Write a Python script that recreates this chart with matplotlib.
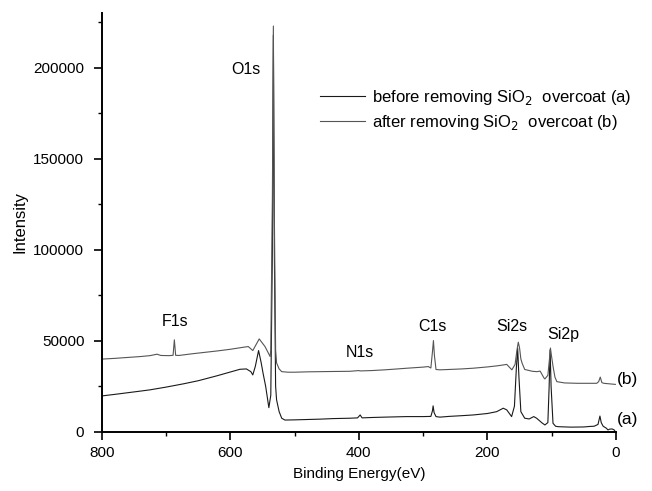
import matplotlib
matplotlib.use("Agg")
import matplotlib.pyplot as plt
from matplotlib.ticker import MultipleLocator

plt.rcParams['font.family'] = ['Liberation Sans', 'DejaVu Sans']

# Curve (a): before removing SiO2 overcoat  (binding energy eV, intensity)
e_a = [800, 780, 760, 740, 725, 700, 673, 650, 621, 600, 585, 575, 568, 565, 561, 556, 552, 549,
       545, 540, 537, 534.5, 533, 531.5, 529.5, 528, 524, 520, 515, 500, 480, 460, 440, 414, 402,
       398, 395, 380, 360, 325.7, 300, 288, 285.5, 284.5, 283, 280, 274, 260, 240, 222, 200,
       185.7, 175.4, 170, 162.4, 158, 155, 153, 151, 148, 142, 135, 128, 123.5, 115, 110.6, 106,
       104, 102.5, 101, 98, 94, 90, 70, 50, 40, 34, 28, 25, 23, 20, 15, 12.5, 10, 6, 3, 1]
i_a = [19650, 20500, 21400, 22300, 23000, 24500, 26300, 28000, 30700, 32800, 34300, 34500, 33000,
       31200, 36000, 44600, 38000, 32100, 25000, 13200, 20000, 100000, 218000, 100000, 25000, 17500,
       11000, 7400, 6400, 6500, 6700, 6900, 7200, 7400, 7600, 9200, 7600, 7800, 8000, 8300, 8300,
       8400, 11500, 14200, 10500, 8300, 8000, 8400, 8800, 9200, 10000, 11000, 12900, 12000, 8300,
       14000, 35000, 46000, 30000, 11000, 7400, 7000, 8300, 7400, 4800, 3700, 5000, 25000, 45000,
       25000, 4600, 3000, 2750, 2500, 2600, 2900, 3000, 4000, 8600, 5000, 3000, 1900, 950, 1400,
       1500, 1000, 0]

# Curve (b): after removing SiO2 overcoat
e_b = [800, 780, 760, 740, 725, 714, 708, 695, 689, 687, 685, 680, 660, 640, 620, 600, 580, 572,
       565, 555, 546, 538, 537, 534.5, 533, 531.5, 529.5, 528, 524, 520, 510, 500, 480, 460, 440,
       414, 400, 398, 380, 360, 340, 325, 300, 292, 288, 285.5, 284, 282.5, 280, 274, 260, 240,
       222, 200, 185, 175, 170, 162, 157, 154, 152, 150, 148, 146, 142, 130, 123, 118, 112, 110.6,
       106, 103.5, 102, 100.5, 98, 95, 92, 80, 60, 40, 30, 27, 24.5, 22, 19, 10, 4, 1]
i_b = [39900, 40300, 40800, 41300, 41800, 42600, 41900, 41800, 42000, 50500, 42000, 41900, 42800,
       43600, 44400, 45300, 46400, 46800, 44600, 51000, 46800, 41300, 45000, 130000, 223000,
       120000, 45000, 37800, 34500, 33000, 32700, 32700, 32900, 33000, 33100, 33200, 33600, 33400,
       33600, 34000, 34500, 34900, 35500, 35800, 35000, 44000, 50100, 42000, 34200, 34000, 34200,
       34500, 34900, 35600, 36200, 36700, 37000, 34000, 37000, 45000, 49200, 46000, 40000, 37600,
       34200, 33200, 33000, 33300, 29500, 29000, 31000, 40000, 46000, 42000, 36000, 30000, 27500,
       26800, 26600, 26600, 26600, 27500, 30000, 27000, 26600, 26300, 26100, 26000]

labels = ["before removing SiO$_2$  overcoat (a)", "after removing SiO$_2$  overcoat (b)"]

peak_names = ["F1s", "O1s", "N1s", "C1s", "Si2s", "Si2p"]
peak_pos_e = [686, 575, 399, 285.5, 162, 82]
peak_pos_i = [60400, 199000, 43600, 57800, 57700, 53500]

fig = plt.figure(figsize=(6.52, 4.91), dpi=100)
ax = fig.add_axes([0.156, 0.1208, 0.7888, 0.8521])

ax.plot(e_a, i_a, color='#1a1a1a', lw=0.8, label=labels[0])
ax.plot(e_b, i_b, color='#555555', lw=0.8, label=labels[1])

ax.set_xlim(800, 0)
ax.set_ylim(0, 230000)
ax.xaxis.set_major_locator(MultipleLocator(200))
ax.xaxis.set_minor_locator(MultipleLocator(100))
ax.yaxis.set_major_locator(MultipleLocator(50000))
ax.yaxis.set_minor_locator(MultipleLocator(25000))

for s in ['top', 'right']:
    ax.spines[s].set_visible(False)
for s in ['left', 'bottom']:
    ax.spines[s].set_linewidth(1.4)
ax.tick_params(which='major', direction='out', length=5.5, width=1.2, labelsize=11)
ax.tick_params(axis='y', which='major', pad=7)
ax.tick_params(axis='x', which='major', pad=5)
ax.tick_params(which='minor', direction='out', length=3, width=1.0)

ax.set_xlabel("Binding Energy(eV)", fontsize=11, labelpad=5)
ax.set_ylabel("Intensity", fontsize=12, labelpad=4)

for n, x, y in zip(peak_names, peak_pos_e, peak_pos_i):
    ax.text(x, y, n, ha='center', va='center', fontsize=11.5)
ax.text(-17.5, 28500, "(b)", ha='center', va='center', fontsize=12.5, clip_on=False)
ax.text(-17.5, 6700, "(a)", ha='center', va='center', fontsize=12.5, clip_on=False)

leg = ax.legend(loc='upper left', bbox_to_anchor=(320 / 652, 1 - 88 / 491),
                bbox_transform=fig.transFigure, frameon=False, fontsize=12,
                handlelength=2.7, handletextpad=0.45, labelspacing=0.35,
                borderpad=0, borderaxespad=0)

fig.savefig("out.png", dpi=100)
